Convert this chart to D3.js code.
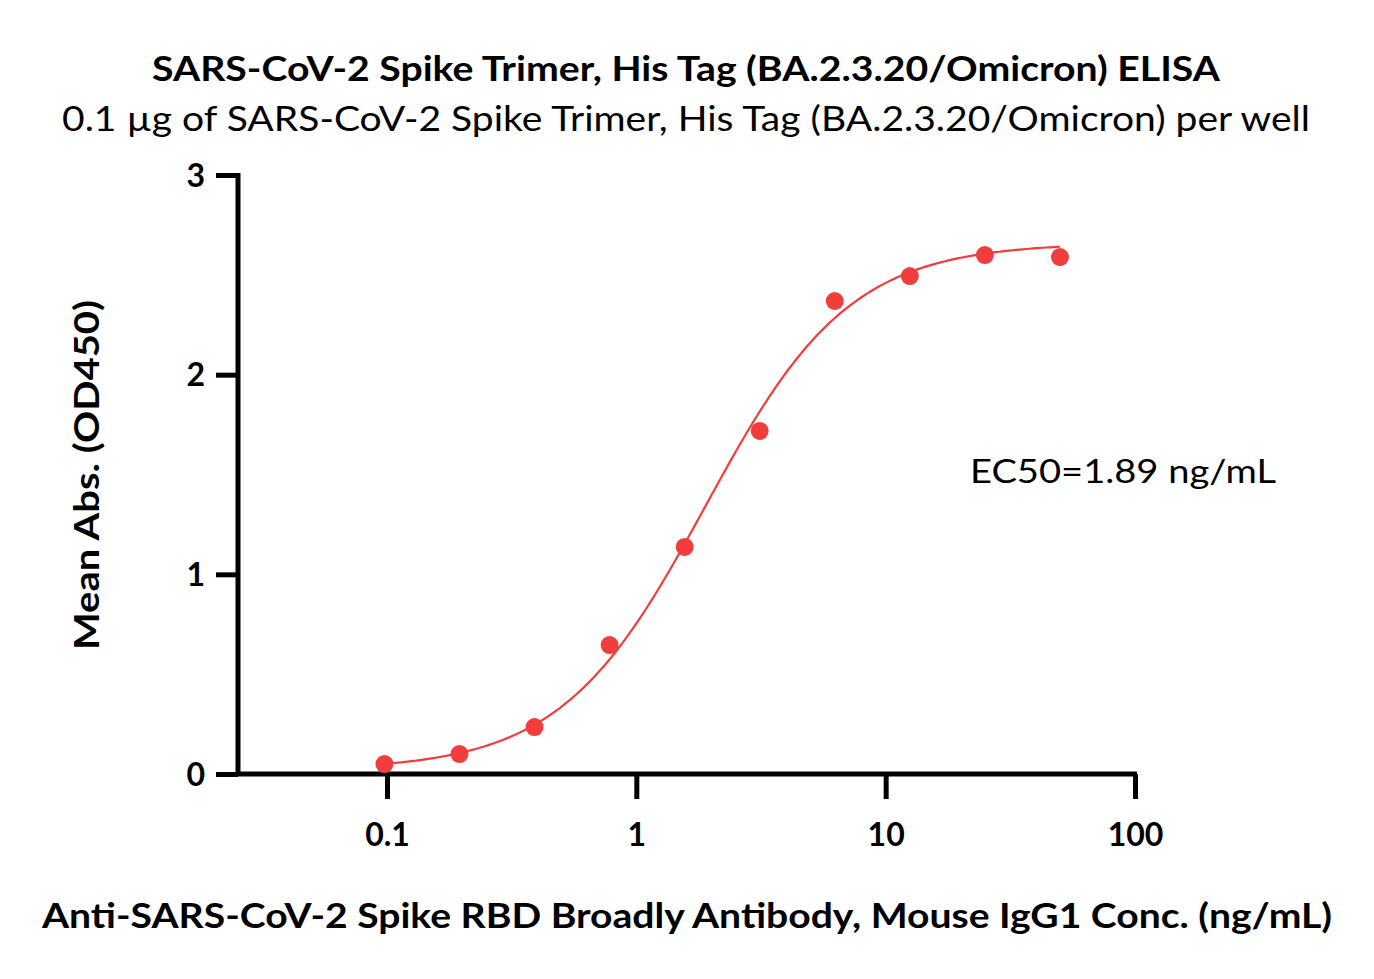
<!DOCTYPE html>
<html><head><meta charset="utf-8">
<script src="https://cdn.jsdelivr.net/npm/d3@7"></script>
<style>body{margin:0;background:#fff}svg{display:block}text{font-family:Lato,"Noto Sans",sans-serif}</style>
</head><body>
<svg id="c" width="1374" height="979"></svg>
<script>
const concentrations = [0.09766, 0.1953, 0.3906, 0.7813, 1.5625, 3.125, 6.25, 12.5, 25, 50];
const meanAbs = [0.05, 0.10, 0.235, 0.646, 1.137, 1.718, 2.369, 2.494, 2.599, 2.589];
const fitParams = {bottom: 0.02, top: 2.66, ec50: 1.89, hill: 1.5};
const xTicks = [0.1, 1, 10, 100];
const xTickLabels = ["0.1", "1", "10", "100"];
const yTicks = [0, 1, 2, 3];
const titleText = "SARS-CoV-2 Spike Trimer, His Tag (BA.2.3.20/Omicron) ELISA";
const subtitleText = "0.1 \u00b5g of SARS-CoV-2 Spike Trimer, His Tag (BA.2.3.20/Omicron) per well";
const xLabel = "Anti-SARS-CoV-2 Spike RBD Broadly Antibody, Mouse IgG1 Conc. (ng/mL)";
const yLabel = "Mean Abs. (OD450)";
const annotation = "EC50=1.89 ng/mL";

const svg = d3.select("#c");
const x = d3.scaleLog().domain([0.1, 100]).range([387, 1135]);
const y = d3.scaleLinear().domain([0, 3]).range([774, 175]);
const red = "#f23d3d";

// axes
const xAxis = d3.axisBottom(x).tickValues(xTicks).tickFormat((d,i)=>xTickLabels[i]).tickSize(25).tickSizeOuter(0);
const gx = svg.append("g").attr("transform","translate(0,774)").call(xAxis);
gx.select(".domain").attr("d", `M236,0H1137`).attr("stroke","#000").attr("stroke-width",5);
gx.selectAll(".tick line").attr("stroke","#000").attr("stroke-width",5);
gx.selectAll(".tick text").attr("fill","#000").attr("font-size",32).attr("font-weight","bold").attr("y",52).attr("dy","0.62em");

const yAxis = d3.axisLeft(y).tickValues(yTicks).tickFormat(d3.format("d")).tickSize(22).tickSizeOuter(0);
const gy = svg.append("g").attr("transform","translate(238,0)").call(yAxis);
gy.select(".domain").attr("d", `M0,173V776`).attr("stroke","#000").attr("stroke-width",5);
gy.selectAll(".tick line").attr("stroke","#000").attr("stroke-width",5);
gy.selectAll(".tick text").attr("fill","#000").attr("font-size",32).attr("font-weight","bold").attr("x",-33).attr("dy","0.35em");

// fitted curve
const fit = c => fitParams.bottom + (fitParams.top - fitParams.bottom)/(1 + Math.pow(fitParams.ec50/c, fitParams.hill));
const lo = Math.log10(concentrations[0]), hi = Math.log10(concentrations[concentrations.length-1]);
const curvePts = d3.range(0, 201).map(i => { const c = Math.pow(10, lo + i/200*(hi-lo)); return [c, fit(c)]; });
svg.append("path").datum(curvePts)
  .attr("d", d3.line().x(d=>x(d[0])).y(d=>y(d[1])))
  .attr("fill","none").attr("stroke",red).attr("stroke-width",2.2);

svg.append("g").selectAll("circle").data(concentrations).join("circle")
  .attr("cx", d=>x(d)).attr("cy",(d,i)=>y(meanAbs[i])).attr("r",9).attr("fill",red);

// texts
svg.append("text").attr("x",686).attr("y",81).attr("text-anchor","middle").attr("font-size",34).attr("font-weight","bold")
  .attr("textLength",1068).attr("lengthAdjust","spacingAndGlyphs").text(titleText);
svg.append("text").attr("x",686).attr("y",131).attr("text-anchor","middle").attr("font-size",34)
  .attr("textLength",1248).attr("lengthAdjust","spacingAndGlyphs").text(subtitleText);
svg.append("text").attr("x",687).attr("y",928).attr("text-anchor","middle").attr("font-size",34).attr("font-weight","bold")
  .attr("textLength",1290).attr("lengthAdjust","spacingAndGlyphs").text(xLabel);
svg.append("text").attr("transform","translate(99,475) rotate(-90)").attr("text-anchor","middle").attr("font-size",34).attr("font-weight","bold")
  .attr("textLength",350).attr("lengthAdjust","spacingAndGlyphs").text(yLabel);
svg.append("text").attr("x",970).attr("y",483).attr("font-size",33)
  .attr("textLength",306).attr("lengthAdjust","spacingAndGlyphs").text(annotation);
</script>
</body></html>
